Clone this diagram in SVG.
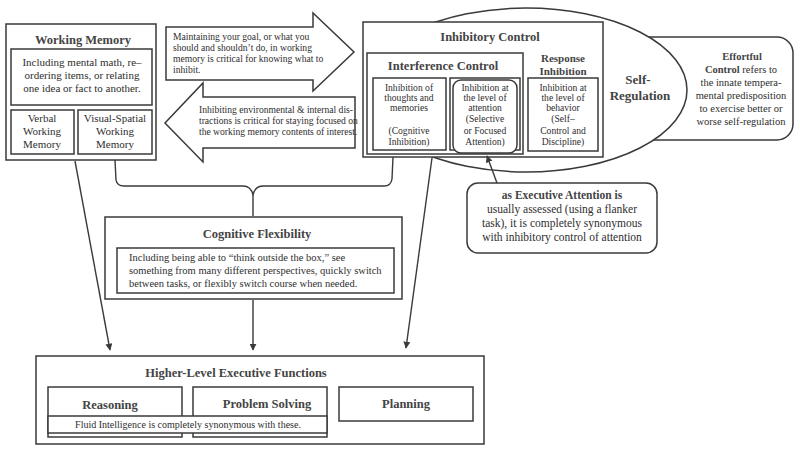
<svg xmlns="http://www.w3.org/2000/svg" width="800" height="451" viewBox="0 0 800 451">
<defs>
<style>
.bx{fill:#fff;stroke:#3a3a3a;stroke-width:1.5}
.ln{fill:none;stroke:#3a3a3a;stroke-width:1.4}
text{font-family:"Liberation Serif","DejaVu Serif",serif;fill:#2e2e2e}
.t{font-size:12.5px;font-weight:bold;text-anchor:middle;fill:#444}
.b{font-size:11px;text-anchor:middle}
.s{font-size:9.6px}
.sc{font-size:9.6px;text-anchor:middle}
</style>
<marker id="ah" viewBox="0 0 10 10" refX="9" refY="5" markerWidth="7" markerHeight="7" orient="auto" markerUnits="userSpaceOnUse">
<path d="M0,0 L10,5 L0,10 z" fill="#3a3a3a"/>
</marker>
</defs>
<rect width="800" height="451" fill="#fff"/>

<g id="effortful-control">
<rect class="bx" x="600" y="37" width="193" height="103" rx="16"/>
<text class="b" x="742" y="60" style="font-size:10.5px;font-weight:bold;fill:#444">Effortful</text>
<text class="b" x="741" y="73" style="font-size:10.5px"><tspan font-weight="bold" fill="#444">Control</tspan> refers to</text>
<text class="b" x="741" y="86" style="font-size:10.5px">the innate tempera-</text>
<text class="b" x="741" y="99" style="font-size:10.5px">mental predisposition</text>
<text class="b" x="741" y="112" style="font-size:10.5px">to exercise better or</text>
<text class="b" x="741" y="125" style="font-size:10.5px">worse self-regulation</text>
</g>

<g id="self-regulation">
<ellipse class="bx" cx="526" cy="90" rx="161" ry="82"/>
<text class="t" x="638" y="84" style="font-size:13px">Self-</text>
<text class="t" x="640" y="100" style="font-size:13px">Regulation</text>
</g>

<g id="inhibitory-control">
<rect class="bx" x="363" y="22" width="240" height="135"/>
<text class="t" x="490" y="41">Inhibitory Control</text>
<g id="interference-control">
<rect class="bx" x="367" y="53" width="156" height="101"/>
<text class="t" x="443" y="70">Interference Control</text>
<g id="cognitive-inhibition">
<rect class="bx" x="373" y="78" width="73" height="72"/>
<text class="sc" x="409" y="91">Inhibition of</text>
<text class="sc" x="409" y="101">thoughts and</text>
<text class="sc" x="409" y="111">memories</text>
<text class="sc" x="409" y="134">(Cognitive</text>
<text class="sc" x="409" y="145">Inhibition)</text>
</g>
<g id="attention-inhibition">
<rect class="bx" x="450" y="78" width="70" height="72"/>
<rect class="bx" x="453" y="80" width="64" height="73" rx="8"/>
<text class="sc" x="485" y="91">Inhibition at</text>
<text class="sc" x="485" y="101">the level of</text>
<text class="sc" x="485" y="111">attention</text>
<text class="sc" x="485" y="122">(Selective</text>
<text class="sc" x="485" y="134">or Focused</text>
<text class="sc" x="485" y="145">Attention)</text>
</g>
</g>
<g id="response-inhibition">
<text class="t" x="563" y="62" style="font-size:11px">Response</text>
<text class="t" x="563" y="75" style="font-size:11px">Inhibition</text>
<rect class="bx" x="528" y="78" width="70" height="73"/>
<text class="sc" x="563" y="91">Inhibition at</text>
<text class="sc" x="563" y="101">the level of</text>
<text class="sc" x="563" y="111">behavior</text>
<text class="sc" x="563" y="122">(Self–</text>
<text class="sc" x="563" y="134">Control and</text>
<text class="sc" x="563" y="145">Discipline)</text>
</g>
</g>

<g id="working-memory">
<rect class="bx" x="6" y="24" width="150" height="136"/>
<text class="t" x="83" y="44">Working Memory</text>
<rect class="bx" x="11" y="49" width="141" height="56"/>
<text class="b" x="82" y="66">Including mental math, re–</text>
<text class="b" x="82" y="79">ordering items, or relating</text>
<text class="b" x="82" y="92">one idea or fact to another.</text>
<rect class="bx" x="11" y="110" width="63" height="44"/>
<text class="b" x="42" y="122">Verbal</text>
<text class="b" x="42" y="135">Working</text>
<text class="b" x="42" y="148">Memory</text>
<rect class="bx" x="78" y="110" width="74" height="44"/>
<text class="b" x="115" y="122">Visual-Spatial</text>
<text class="b" x="115" y="135">Working</text>
<text class="b" x="115" y="148">Memory</text>
</g>

<g id="arrow-maintaining">
<path class="bx" d="M166,27 L313,27 L313,13 L354,52 L313,91 L313,80 L166,80 Z"/>
<text class="s" x="173" y="40">Maintaining your goal, or what you</text>
<text class="s" x="173" y="51">should and shouldn’t do, in working</text>
<text class="s" x="173" y="62">memory is critical for knowing what to</text>
<text class="s" x="173" y="73">inhibit.</text>
</g>

<g id="arrow-inhibiting">
<path class="bx" d="M355,97 L203,97 L203,83 L165,123 L203,162 L203,148 L355,148 Z"/>
<text class="s" x="199" y="113">Inhibiting environmental &amp; internal dis-</text>
<text class="s" x="199" y="124">tractions is critical for staying focused on</text>
<text class="s" x="199" y="135">the working memory contents of interest.</text>
</g>

<g id="executive-attention">
<rect class="bx" x="467" y="183" width="190" height="70" rx="11"/>
<text class="b" x="562" y="199" style="font-size:11.5px;font-weight:bold;fill:#444">as Executive Attention is</text>
<text class="b" x="562" y="213" style="font-size:11.5px">usually assessed (using a flanker</text>
<text class="b" x="562" y="227" style="font-size:11.5px">task), it is completely synonymous</text>
<text class="b" x="562" y="241" style="font-size:11.5px">with inhibitory control of attention</text>
</g>

<g id="cognitive-flexibility">
<rect class="bx" x="105" y="217" width="297" height="82"/>
<text class="t" x="257" y="238">Cognitive Flexibility</text>
<rect class="bx" x="117" y="248" width="277" height="45"/>
<text x="129" y="261" style="font-size:10.5px">Including being able to “think outside the box,” see</text>
<text x="129" y="274" style="font-size:10.5px">something from many different perspectives, quickly switch</text>
<text x="129" y="287" style="font-size:10.5px">between tasks, or flexibly switch course when needed.</text>
</g>

<g id="higher-level-executive-functions">
<rect class="bx" x="36" y="356" width="448" height="88"/>
<text class="t" x="236" y="377">Higher-Level Executive Functions</text>
<rect class="bx" x="48" y="387" width="134" height="50"/>
<rect class="bx" x="193" y="387" width="134" height="50"/>
<text class="t" x="110" y="409">Reasoning</text>
<text class="t" x="267" y="408">Problem Solving</text>
<rect class="bx" x="48" y="416" width="279" height="17"/>
<text class="sc" x="188" y="428" style="font-size:10px">Fluid Intelligence is completely synonymous with these.</text>
<rect class="bx" x="339" y="387" width="134" height="34"/>
<text class="t" x="406" y="408">Planning</text>
</g>

<g id="connectors">
<path class="ln" d="M115,160 L116,180 Q117,186 124,186 L243,186 Q251,186 253,195 Q255,186 263,186 L384,186 Q391,186 392,179 L393,157"/>
<path class="ln" d="M253,195 L253,216"/>
<path class="ln" d="M75,161 L110,350" marker-end="url(#ah)"/>
<path class="ln" d="M253,300 L253,350" marker-end="url(#ah)"/>
<path class="ln" d="M432,158 L406,348" marker-end="url(#ah)"/>
<path class="ln" d="M497,183 L487,156" marker-end="url(#ah)"/>
</g>
</svg>
